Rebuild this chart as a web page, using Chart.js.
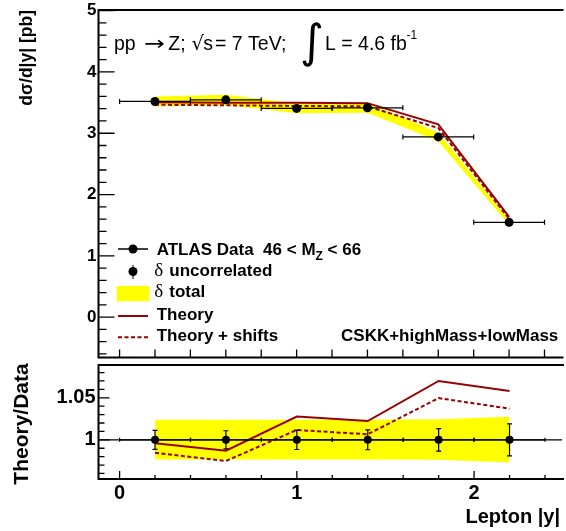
<!DOCTYPE html>
<html><head><meta charset="utf-8">
<script src="https://cdn.jsdelivr.net/npm/chart.js@4/dist/chart.umd.min.js"></script>
<style>
html,body{margin:0;padding:0;background:#fff;}
#wrap{position:relative;width:566px;height:531px;overflow:hidden;background:#fff;}
canvas{position:absolute;left:0;}
#top{top:0;}
#bot{top:361px;}
</style></head><body>
<div id="wrap">
<canvas id="top" width="566" height="362"></canvas>
<canvas id="bot" width="566" height="170"></canvas>
</div>
<script>
// ---- data ----
const binCenters   = [0.2, 0.6, 1.0, 1.4, 1.8, 2.2];
const binHalfWidth = [0.2, 0.2, 0.2, 0.2, 0.2, 0.2];
const dataValues   = [3.518, 3.545, 3.405, 3.415, 2.940, 1.546];
const uncorrRel    = [0.0113, 0.0108, 0.0115, 0.0118, 0.0134, 0.0190];
const bandHigh     = [3.601, 3.629, 3.486, 3.496, 3.012, 1.588];
const bandLow      = [3.435, 3.462, 3.325, 3.335, 2.870, 1.504];
const theoryValues = [3.504, 3.499, 3.499, 3.491, 3.146, 1.636];
const shiftValues  = [3.464, 3.456, 3.445, 3.437, 3.086, 1.603];
const ratioBandHigh = [1.0238, 1.0238, 1.0238, 1.0238, 1.0245, 1.0273];
const ratioBandLow  = [0.9765, 0.9765, 0.9765, 0.9765, 0.9762, 0.9730];
const ratioTheory   = [0.9960, 0.9870, 1.0277, 1.0223, 1.0700, 1.0582];
const ratioShift    = [0.9847, 0.9749, 1.0117, 1.0066, 1.0496, 1.0371];
const ratioData     = [1, 1, 1, 1, 1, 1];
const topYTicks   = [0, 1, 2, 3, 4, 5];
const ratioYTicks = [1, 1.05];
const xTicks      = [0, 1, 2];

// ---- styles ----
const RED = '#990000', YEL = '#ffff00';
const SANS = '"Liberation Sans", Arial, sans-serif';
const SERIF = '"Liberation Serif", "Times New Roman", serif';
const X_MIN = -0.119, X_MAX = 2.496;

const pts = (ys) => binCenters.map((x, i) => ({x, y: ys[i]}));

function bandSets(hi, lo) {
  return [
    {type:'line', data: pts(hi), fill:'+1', backgroundColor: YEL, borderColor:'rgba(0,0,0,0)', borderWidth:0, pointRadius:0, order:5, tension:0},
    {type:'line', data: pts(lo), fill:false, borderColor:'rgba(0,0,0,0)', borderWidth:0, pointRadius:0, order:6, tension:0}
  ];
}
function lineSet(ys, dash) {
  return {type:'line', data: pts(ys), fill:false, borderColor: RED, borderWidth: 2, borderDash: dash || [], pointRadius:0, order: dash ? 3 : 4, tension:0};
}
function pointSet(ys, r) {
  return {type:'scatter', data: pts(ys), pointRadius: r, pointBackgroundColor:'#000', pointBorderColor:'#000', pointBorderWidth:0, showLine:false, order:1};
}

function drawErrors(chart, yvals, relErr, cap, vcap) {
  const xs = chart.scales.x, ys = chart.scales.y, ctx = chart.ctx;
  ctx.save();
  ctx.strokeStyle = '#000'; ctx.lineWidth = 1.2;
  binCenters.forEach((c, i) => {
    const x1 = xs.getPixelForValue(c - binHalfWidth[i]);
    const x2 = xs.getPixelForValue(c + binHalfWidth[i]);
    const xc = xs.getPixelForValue(c);
    const y = ys.getPixelForValue(yvals[i]);
    const yt = ys.getPixelForValue(yvals[i] * (1 + relErr[i]));
    const yb = ys.getPixelForValue(yvals[i] * (1 - relErr[i]));
    ctx.beginPath();
    ctx.moveTo(x1, y); ctx.lineTo(x2, y);
    ctx.moveTo(x1, y - cap); ctx.lineTo(x1, y + cap);
    ctx.moveTo(x2, y - cap); ctx.lineTo(x2, y + cap);
    ctx.moveTo(xc, yt); ctx.lineTo(xc, yb);
    ctx.moveTo(xc - vcap, yt); ctx.lineTo(xc + vcap, yt);
    ctx.moveTo(xc - vcap, yb); ctx.lineTo(xc + vcap, yb);
    ctx.stroke();
  });
  ctx.restore();
}

function yTickMarks(chart, step, majorEvery, majLen, minLen) {
  const ys = chart.scales.y, a = chart.chartArea, ctx = chart.ctx;
  const k0 = Math.ceil(ys.min / step - 1e-6), k1 = Math.floor(ys.max / step + 1e-6);
  ctx.beginPath();
  for (let k = k0; k <= k1; k++) {
    const y = ys.getPixelForValue(k * step);
    const len = (k % majorEvery === 0) ? majLen : minLen;
    ctx.moveTo(a.left, y); ctx.lineTo(a.left + len, y);
  }
  ctx.stroke();
}
function xTickMarks(chart, step, majorEvery, majLen, minLen) {
  const xs = chart.scales.x, a = chart.chartArea, ctx = chart.ctx;
  const k0 = Math.ceil(xs.min / step - 1e-6), k1 = Math.floor(xs.max / step + 1e-6);
  ctx.beginPath();
  for (let k = k0; k <= k1; k++) {
    const x = xs.getPixelForValue(k * step);
    const len = (k % majorEvery === 0) ? majLen : minLen;
    ctx.moveTo(x, a.bottom); ctx.lineTo(x, a.bottom - len);
  }
  ctx.stroke();
}
function frame(chart) {
  const a = chart.chartArea, ctx = chart.ctx;
  ctx.beginPath();
  ctx.moveTo(a.right + 2, a.top); ctx.lineTo(a.left, a.top); ctx.lineTo(a.left, a.bottom); ctx.lineTo(a.right + 2, a.bottom);
  ctx.stroke();
}
function noPad(s) { s.paddingTop = 0; s.paddingBottom = 0; s.paddingLeft = 0; s.paddingRight = 0; }

const topPlugin = {
  id: 'topDeco',
  beforeDatasetDraw(chart, args) {
    if (args.index === 4) drawErrors(chart, dataValues, uncorrRel, 2.5, 2);
  },
  afterDraw(chart) {
    const ctx = chart.ctx;
    ctx.save();
    ctx.strokeStyle = '#000'; ctx.lineWidth = 1.3;
    yTickMarks(chart, 0.2, 5, 16, 8);
    xTickMarks(chart, 0.2, 5, 8, 8);
    ctx.lineWidth = 2;
    frame(chart);
    // y title
    ctx.save();
    ctx.translate(31.5, 10);
    ctx.rotate(-Math.PI / 2);
    ctx.font = 'bold 17.5px ' + SANS; ctx.fillStyle = '#000';
    ctx.textAlign = 'right'; ctx.textBaseline = 'alphabetic';
    ctx.fillText('d\u03c3/d|y| [pb]', 0, 0);
    ctx.restore();
    // annotation
    ctx.fillStyle = '#000'; ctx.strokeStyle = '#000'; ctx.textBaseline = 'alphabetic'; ctx.textAlign = 'left';
    const yb = 50, F = '19.5px ' + SANS;
    ctx.font = F;
    ctx.fillText('pp', 114, yb);
    ctx.save();
    ctx.font = '19.5px "DejaVu Sans", sans-serif';
    ctx.translate(144, yb);
    ctx.scale(1.28, 1);
    ctx.fillText('\u2192', 0, 0);
    ctx.restore();
    ctx.font = F;
    ctx.fillText('Z;', 168.3, yb);
    ctx.font = '19.5px "DejaVu Sans", sans-serif';
    ctx.fillText('\u221a', 191.5, yb);
    ctx.font = F;
    ctx.fillText('s', 203.3, yb);
    ctx.fillText('= 7 TeV;', 215, yb);
    ctx.font = '46px "DejaVu Sans", sans-serif';
    ctx.fillText('\u222b', 300, 57);
    ctx.font = F;
    ctx.fillText('L = 4.6 fb', 325, yb);
    ctx.font = '12px ' + SANS;
    ctx.fillText('-1', 406.5, 38.5);
    // legend
    const LX = 118, LX2 = 148, MX = 133, TX = 156.7;
    ctx.strokeStyle = '#000'; ctx.lineWidth = 1.5;
    ctx.beginPath(); ctx.moveTo(LX, 249); ctx.lineTo(LX2, 249); ctx.stroke();
    ctx.beginPath(); ctx.arc(MX, 249, 4.5, 0, 2 * Math.PI); ctx.fill();
    let tx = TX;
    const put2 = (t, font, by) => { ctx.font = font; ctx.fillText(t, tx, by); tx += ctx.measureText(t).width; };
    put2('ATLAS Data  46 < M', 'bold 17px ' + SANS, 255);
    put2('Z', 'bold 12px ' + SANS, 259.5);
    put2(' < 66', 'bold 17px ' + SANS, 255);
    // uncorrelated
    ctx.lineWidth = 1;
    ctx.beginPath(); ctx.moveTo(MX, 265); ctx.lineTo(MX, 279); ctx.stroke();
    ctx.beginPath(); ctx.arc(MX, 271.5, 4.5, 0, 2 * Math.PI); ctx.fill();
    ctx.font = '19px ' + SERIF; ctx.fillText('\u03b4', 154.3, 276);
    ctx.font = 'bold 17px ' + SANS; ctx.fillText('uncorrelated', 169.3, 276);
    // total
    ctx.fillStyle = YEL; ctx.fillRect(116.7, 286, 32.6, 15.3);
    ctx.fillStyle = '#000';
    ctx.font = '19px ' + SERIF; ctx.fillText('\u03b4', 154.3, 297);
    ctx.font = 'bold 17px ' + SANS; ctx.fillText('total', 169.3, 297);
    // theory
    ctx.strokeStyle = RED; ctx.lineWidth = 2;
    ctx.beginPath(); ctx.moveTo(LX, 316); ctx.lineTo(LX2, 316); ctx.stroke();
    ctx.setLineDash([4, 2.5]);
    ctx.beginPath(); ctx.moveTo(LX, 337.3); ctx.lineTo(LX2, 337.3); ctx.stroke();
    ctx.setLineDash([]);
    ctx.fillText('Theory', TX, 320);
    ctx.fillText('Theory + shifts', TX, 341);
    ctx.textAlign = 'right';
    ctx.fillText('CSKK+highMass+lowMass', 558.3, 341);
    ctx.restore();
  }
};

const botPlugin = {
  id: 'botDeco',
  beforeDatasetDraw(chart, args) {
    if (args.index === 4) {
      const ctx = chart.ctx, a = chart.chartArea, y = chart.scales.y.getPixelForValue(1);
      ctx.save(); ctx.strokeStyle = '#000'; ctx.lineWidth = 1.3;
      ctx.beginPath(); ctx.moveTo(a.left, y); ctx.lineTo(a.right, y); ctx.stroke();
      ctx.restore();
      drawErrors(chart, ratioData, uncorrRel, 2, 2.5);
    }
  },
  afterDraw(chart) {
    const ctx = chart.ctx;
    ctx.save();
    ctx.strokeStyle = '#000'; ctx.lineWidth = 1.3;
    yTickMarks(chart, 0.01, 5, 11, 6);
    xTickMarks(chart, 0.2, 5, 8, 4);
    ctx.lineWidth = 2;
    frame(chart);
    ctx.fillStyle = '#000';
    ctx.save();
    ctx.translate(28, 2.3);
    ctx.rotate(-Math.PI / 2);
    ctx.font = 'bold 21px ' + SANS; ctx.textAlign = 'right'; ctx.textBaseline = 'alphabetic';
    ctx.fillText('Theory/Data', 0, 0);
    ctx.restore();
    ctx.font = 'bold 20px ' + SANS; ctx.textAlign = 'right'; ctx.textBaseline = 'alphabetic';
    ctx.fillText('Lepton |y|', 560, 523.3 - 361);
    ctx.restore();
  }
};

const tickFont = (s) => ({family: SANS, weight: 'bold', size: s});

new Chart(document.getElementById('top'), {
  data: {
    datasets: [
      ...bandSets(bandHigh, bandLow),
      lineSet(theoryValues),
      lineSet(shiftValues, [4, 2.5]),
      pointSet(dataValues, 4.5)
    ]
  },
  options: {
    responsive: false, animation: false, devicePixelRatio: 1,
    layout: {padding: {top: 10, bottom: 2, left: 0, right: 0}},
    plugins: {legend: {display: false}, tooltip: {enabled: false}},
    scales: {
      x: {type: 'linear', min: X_MIN, max: X_MAX, display: false},
      y: {type: 'linear', min: -0.658, max: 5.01,
          afterFit(s) { s.width = 98.5; noPad(s); },
          afterBuildTicks(s) { s.ticks = topYTicks.map(v => ({value: v})); },
          ticks: {font: tickFont(17), color: '#000', padding: 2, callback: v => String(v)},
          grid: {display: false, drawTicks: false}, border: {display: false}}
    }
  },
  plugins: [topPlugin]
});

new Chart(document.getElementById('bot'), {
  data: {
    datasets: [
      ...bandSets(ratioBandHigh, ratioBandLow),
      lineSet(ratioTheory),
      lineSet(ratioShift, [4, 2.5]),
      pointSet(ratioData, 4)
    ]
  },
  options: {
    responsive: false, animation: false, devicePixelRatio: 1,
    layout: {padding: {top: 2.3, bottom: 0, left: 0, right: 0}},
    plugins: {legend: {display: false}, tooltip: {enabled: false}},
    scales: {
      x: {type: 'linear', min: X_MIN, max: X_MAX,
          afterFit(s) { s.height = 52; noPad(s); },
          afterBuildTicks(s) { s.ticks = xTicks.map(v => ({value: v})); },
          ticks: {font: tickFont(20), color: '#000', padding: 2, maxRotation: 0, callback: v => String(v)},
          grid: {display: false, drawTicks: false}, border: {display: false}},
      y: {type: 'linear', min: 0.9534, max: 1.089,
          afterFit(s) { s.width = 98.5; noPad(s); },
          afterBuildTicks(s) { s.ticks = ratioYTicks.map(v => ({value: v})); },
          ticks: {font: tickFont(20), color: '#000', padding: 3, callback: v => String(v)},
          grid: {display: false, drawTicks: false}, border: {display: false}}
    }
  },
  plugins: [botPlugin]
});
</script>
</body></html>
